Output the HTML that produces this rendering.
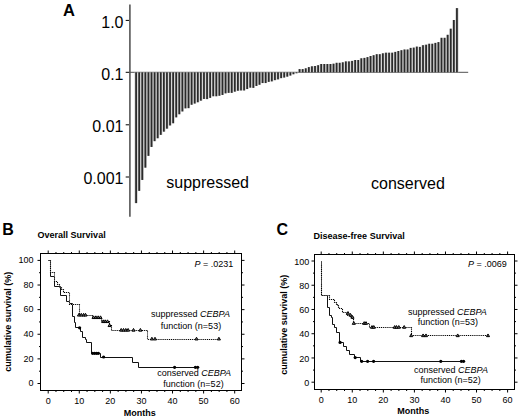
<!DOCTYPE html>
<html><head><meta charset="utf-8"><style>
html,body{margin:0;padding:0;background:#fff;width:520px;height:416px;overflow:hidden}
svg{display:block}
text{font-family:"Liberation Sans",sans-serif;fill:#000}
</style></head><body>
<svg width="520" height="416" viewBox="0 0 520 416">
<rect width="520" height="416" fill="#fff"/>
<!-- Panel A -->
<text x="63" y="15.6" font-size="16.5" font-weight="bold">A</text>
<line x1="129.9" y1="4.5" x2="129.9" y2="216.8" stroke="#606060" stroke-width="1.7"/>
<line x1="129" y1="72.3" x2="468.2" y2="72.3" stroke="#505050" stroke-width="1"/>
<g stroke="#000" stroke-width="1">
<line x1="125.7" y1="20.4" x2="129" y2="20.4"/>
<line x1="125.7" y1="72.3" x2="129" y2="72.3"/>
<line x1="125.7" y1="124.8" x2="129" y2="124.8"/>
<line x1="125.7" y1="177" x2="129" y2="177"/>
</g>
<g font-size="16" text-anchor="end">
<text x="123.5" y="27.5">1.0</text>
<text x="123.5" y="79.6">0.1</text>
<text x="123.5" y="132.1">0.01</text>
<text x="123.5" y="184.4">0.001</text>
</g>
<g fill="#cacaca">
<rect x="134.56" y="72.30" width="3.085" height="130.80"/>
<rect x="137.64" y="72.30" width="3.085" height="118.55"/>
<rect x="140.73" y="72.30" width="3.085" height="107.65"/>
<rect x="143.81" y="72.30" width="3.085" height="95.35"/>
<rect x="146.90" y="72.30" width="3.085" height="83.55"/>
<rect x="149.98" y="72.30" width="3.085" height="74.65"/>
<rect x="153.07" y="72.30" width="3.085" height="68.85"/>
<rect x="156.15" y="72.30" width="3.085" height="65.95"/>
<rect x="159.24" y="72.30" width="3.085" height="62.55"/>
<rect x="162.32" y="72.30" width="3.085" height="59.35"/>
<rect x="165.41" y="72.30" width="3.085" height="56.35"/>
<rect x="168.49" y="72.30" width="3.085" height="53.15"/>
<rect x="171.58" y="72.30" width="3.085" height="50.95"/>
<rect x="174.66" y="72.30" width="3.085" height="45.05"/>
<rect x="177.75" y="72.30" width="3.085" height="41.95"/>
<rect x="180.83" y="72.30" width="3.085" height="39.15"/>
<rect x="183.92" y="72.30" width="3.085" height="36.05"/>
<rect x="187.00" y="72.30" width="3.085" height="35.85"/>
<rect x="190.09" y="72.30" width="3.085" height="32.45"/>
<rect x="193.17" y="72.30" width="3.085" height="31.25"/>
<rect x="196.26" y="72.30" width="3.085" height="29.95"/>
<rect x="199.34" y="72.30" width="3.085" height="28.35"/>
<rect x="202.43" y="72.30" width="3.085" height="26.65"/>
<rect x="205.51" y="72.30" width="3.085" height="26.80"/>
<rect x="208.60" y="72.30" width="3.085" height="25.55"/>
<rect x="211.68" y="72.30" width="3.085" height="23.95"/>
<rect x="214.77" y="72.30" width="3.085" height="23.95"/>
<rect x="217.85" y="72.30" width="3.085" height="23.45"/>
<rect x="220.94" y="72.30" width="3.085" height="22.65"/>
<rect x="224.02" y="72.30" width="3.085" height="21.05"/>
<rect x="227.11" y="72.30" width="3.085" height="20.55"/>
<rect x="230.19" y="72.30" width="3.085" height="20.55"/>
<rect x="233.28" y="72.30" width="3.085" height="19.35"/>
<rect x="236.36" y="72.30" width="3.085" height="18.45"/>
<rect x="239.45" y="72.30" width="3.085" height="18.15"/>
<rect x="242.53" y="72.30" width="3.085" height="18.15"/>
<rect x="245.62" y="72.30" width="3.085" height="16.75"/>
<rect x="248.70" y="72.30" width="3.085" height="15.35"/>
<rect x="251.79" y="72.30" width="3.085" height="15.55"/>
<rect x="254.87" y="72.30" width="3.085" height="13.65"/>
<rect x="257.96" y="72.30" width="3.085" height="12.45"/>
<rect x="261.04" y="72.30" width="3.085" height="10.75"/>
<rect x="264.13" y="72.30" width="3.085" height="10.75"/>
<rect x="267.21" y="72.30" width="3.085" height="9.55"/>
<rect x="270.30" y="72.30" width="3.085" height="9.05"/>
<rect x="273.38" y="72.30" width="3.085" height="7.85"/>
<rect x="276.47" y="72.30" width="3.085" height="7.05"/>
<rect x="279.55" y="72.30" width="3.085" height="5.85"/>
<rect x="282.64" y="72.30" width="3.085" height="5.25"/>
<rect x="285.72" y="72.30" width="3.085" height="4.35"/>
<rect x="288.81" y="72.30" width="3.085" height="3.25"/>
<rect x="291.89" y="72.30" width="3.085" height="1.95"/>
<rect x="294.98" y="72.30" width="3.085" height="0.95"/>
<rect x="298.06" y="69.10" width="3.085" height="3.20"/>
<rect x="301.15" y="69.10" width="3.085" height="3.20"/>
<rect x="304.23" y="68.30" width="3.085" height="4.00"/>
<rect x="307.32" y="67.10" width="3.085" height="5.20"/>
<rect x="310.40" y="66.30" width="3.085" height="6.00"/>
<rect x="313.49" y="66.00" width="3.085" height="6.30"/>
<rect x="316.57" y="65.20" width="3.085" height="7.10"/>
<rect x="319.66" y="64.00" width="3.085" height="8.30"/>
<rect x="322.74" y="64.00" width="3.085" height="8.30"/>
<rect x="325.83" y="64.00" width="3.085" height="8.30"/>
<rect x="328.91" y="64.00" width="3.085" height="8.30"/>
<rect x="332.00" y="63.70" width="3.085" height="8.60"/>
<rect x="335.08" y="62.80" width="3.085" height="9.50"/>
<rect x="338.17" y="62.80" width="3.085" height="9.50"/>
<rect x="341.25" y="62.30" width="3.085" height="10.00"/>
<rect x="344.34" y="61.40" width="3.085" height="10.90"/>
<rect x="347.42" y="61.40" width="3.085" height="10.90"/>
<rect x="350.51" y="60.90" width="3.085" height="11.40"/>
<rect x="353.59" y="60.00" width="3.085" height="12.30"/>
<rect x="356.68" y="60.00" width="3.085" height="12.30"/>
<rect x="359.76" y="58.30" width="3.085" height="14.00"/>
<rect x="362.85" y="57.90" width="3.085" height="14.40"/>
<rect x="365.93" y="57.10" width="3.085" height="15.20"/>
<rect x="369.02" y="56.00" width="3.085" height="16.30"/>
<rect x="372.10" y="55.20" width="3.085" height="17.10"/>
<rect x="375.19" y="54.20" width="3.085" height="18.10"/>
<rect x="378.27" y="54.20" width="3.085" height="18.10"/>
<rect x="381.36" y="53.30" width="3.085" height="19.00"/>
<rect x="384.44" y="52.70" width="3.085" height="19.60"/>
<rect x="387.53" y="52.70" width="3.085" height="19.60"/>
<rect x="390.61" y="52.70" width="3.085" height="19.60"/>
<rect x="393.70" y="51.90" width="3.085" height="20.40"/>
<rect x="396.78" y="51.00" width="3.085" height="21.30"/>
<rect x="399.87" y="50.20" width="3.085" height="22.10"/>
<rect x="402.95" y="49.50" width="3.085" height="22.80"/>
<rect x="406.04" y="49.50" width="3.085" height="22.80"/>
<rect x="409.12" y="47.90" width="3.085" height="24.40"/>
<rect x="412.21" y="47.60" width="3.085" height="24.70"/>
<rect x="415.29" y="46.60" width="3.085" height="25.70"/>
<rect x="418.38" y="46.90" width="3.085" height="25.40"/>
<rect x="421.46" y="45.20" width="3.085" height="27.10"/>
<rect x="424.55" y="44.70" width="3.085" height="27.60"/>
<rect x="427.63" y="43.75" width="3.085" height="28.55"/>
<rect x="430.72" y="43.75" width="3.085" height="28.55"/>
<rect x="433.80" y="42.90" width="3.085" height="29.40"/>
<rect x="436.89" y="42.10" width="3.085" height="30.20"/>
<rect x="439.97" y="37.80" width="3.085" height="34.50"/>
<rect x="443.06" y="37.80" width="3.085" height="34.50"/>
<rect x="446.14" y="34.80" width="3.085" height="37.50"/>
<rect x="449.23" y="28.70" width="3.085" height="43.60"/>
<rect x="452.31" y="20.00" width="3.085" height="52.30"/>
<rect x="455.40" y="8.10" width="3.085" height="64.20"/>
</g>
<g fill="#2a2a2a">
<rect x="135.22" y="72.30" width="1.75" height="130.80"/>
<rect x="138.31" y="72.30" width="1.75" height="118.55"/>
<rect x="141.39" y="72.30" width="1.75" height="107.65"/>
<rect x="144.48" y="72.30" width="1.75" height="95.35"/>
<rect x="147.56" y="72.30" width="1.75" height="83.55"/>
<rect x="150.65" y="72.30" width="1.75" height="74.65"/>
<rect x="153.73" y="72.30" width="1.75" height="68.85"/>
<rect x="156.82" y="72.30" width="1.75" height="65.95"/>
<rect x="159.91" y="72.30" width="1.75" height="62.55"/>
<rect x="162.99" y="72.30" width="1.75" height="59.35"/>
<rect x="166.07" y="72.30" width="1.75" height="56.35"/>
<rect x="169.16" y="72.30" width="1.75" height="53.15"/>
<rect x="172.25" y="72.30" width="1.75" height="50.95"/>
<rect x="175.33" y="72.30" width="1.75" height="45.05"/>
<rect x="178.41" y="72.30" width="1.75" height="41.95"/>
<rect x="181.50" y="72.30" width="1.75" height="39.15"/>
<rect x="184.58" y="72.30" width="1.75" height="36.05"/>
<rect x="187.67" y="72.30" width="1.75" height="35.85"/>
<rect x="190.75" y="72.30" width="1.75" height="32.45"/>
<rect x="193.84" y="72.30" width="1.75" height="31.25"/>
<rect x="196.93" y="72.30" width="1.75" height="29.95"/>
<rect x="200.01" y="72.30" width="1.75" height="28.35"/>
<rect x="203.09" y="72.30" width="1.75" height="26.65"/>
<rect x="206.18" y="72.30" width="1.75" height="26.80"/>
<rect x="209.26" y="72.30" width="1.75" height="25.55"/>
<rect x="212.35" y="72.30" width="1.75" height="23.95"/>
<rect x="215.44" y="72.30" width="1.75" height="23.95"/>
<rect x="218.52" y="72.30" width="1.75" height="23.45"/>
<rect x="221.60" y="72.30" width="1.75" height="22.65"/>
<rect x="224.69" y="72.30" width="1.75" height="21.05"/>
<rect x="227.77" y="72.30" width="1.75" height="20.55"/>
<rect x="230.86" y="72.30" width="1.75" height="20.55"/>
<rect x="233.94" y="72.30" width="1.75" height="19.35"/>
<rect x="237.03" y="72.30" width="1.75" height="18.45"/>
<rect x="240.12" y="72.30" width="1.75" height="18.15"/>
<rect x="243.20" y="72.30" width="1.75" height="18.15"/>
<rect x="246.28" y="72.30" width="1.75" height="16.75"/>
<rect x="249.37" y="72.30" width="1.75" height="15.35"/>
<rect x="252.45" y="72.30" width="1.75" height="15.55"/>
<rect x="255.54" y="72.30" width="1.75" height="13.65"/>
<rect x="258.62" y="72.30" width="1.75" height="12.45"/>
<rect x="261.71" y="72.30" width="1.75" height="10.75"/>
<rect x="264.79" y="72.30" width="1.75" height="10.75"/>
<rect x="267.88" y="72.30" width="1.75" height="9.55"/>
<rect x="270.97" y="72.30" width="1.75" height="9.05"/>
<rect x="274.05" y="72.30" width="1.75" height="7.85"/>
<rect x="277.13" y="72.30" width="1.75" height="7.05"/>
<rect x="280.22" y="72.30" width="1.75" height="5.85"/>
<rect x="283.30" y="72.30" width="1.75" height="5.25"/>
<rect x="286.39" y="72.30" width="1.75" height="4.35"/>
<rect x="289.48" y="72.30" width="1.75" height="3.25"/>
<rect x="292.56" y="72.30" width="1.75" height="1.95"/>
<rect x="295.64" y="72.30" width="1.75" height="0.95"/>
<rect x="298.73" y="69.10" width="1.75" height="3.20"/>
<rect x="301.81" y="69.10" width="1.75" height="3.20"/>
<rect x="304.90" y="68.30" width="1.75" height="4.00"/>
<rect x="307.99" y="67.10" width="1.75" height="5.20"/>
<rect x="311.07" y="66.30" width="1.75" height="6.00"/>
<rect x="314.15" y="66.00" width="1.75" height="6.30"/>
<rect x="317.24" y="65.20" width="1.75" height="7.10"/>
<rect x="320.32" y="64.00" width="1.75" height="8.30"/>
<rect x="323.41" y="64.00" width="1.75" height="8.30"/>
<rect x="326.50" y="64.00" width="1.75" height="8.30"/>
<rect x="329.58" y="64.00" width="1.75" height="8.30"/>
<rect x="332.66" y="63.70" width="1.75" height="8.60"/>
<rect x="335.75" y="62.80" width="1.75" height="9.50"/>
<rect x="338.83" y="62.80" width="1.75" height="9.50"/>
<rect x="341.92" y="62.30" width="1.75" height="10.00"/>
<rect x="345.00" y="61.40" width="1.75" height="10.90"/>
<rect x="348.09" y="61.40" width="1.75" height="10.90"/>
<rect x="351.17" y="60.90" width="1.75" height="11.40"/>
<rect x="354.26" y="60.00" width="1.75" height="12.30"/>
<rect x="357.35" y="60.00" width="1.75" height="12.30"/>
<rect x="360.43" y="58.30" width="1.75" height="14.00"/>
<rect x="363.51" y="57.90" width="1.75" height="14.40"/>
<rect x="366.60" y="57.10" width="1.75" height="15.20"/>
<rect x="369.69" y="56.00" width="1.75" height="16.30"/>
<rect x="372.77" y="55.20" width="1.75" height="17.10"/>
<rect x="375.86" y="54.20" width="1.75" height="18.10"/>
<rect x="378.94" y="54.20" width="1.75" height="18.10"/>
<rect x="382.02" y="53.30" width="1.75" height="19.00"/>
<rect x="385.11" y="52.70" width="1.75" height="19.60"/>
<rect x="388.19" y="52.70" width="1.75" height="19.60"/>
<rect x="391.28" y="52.70" width="1.75" height="19.60"/>
<rect x="394.37" y="51.90" width="1.75" height="20.40"/>
<rect x="397.45" y="51.00" width="1.75" height="21.30"/>
<rect x="400.53" y="50.20" width="1.75" height="22.10"/>
<rect x="403.62" y="49.50" width="1.75" height="22.80"/>
<rect x="406.71" y="49.50" width="1.75" height="22.80"/>
<rect x="409.79" y="47.90" width="1.75" height="24.40"/>
<rect x="412.88" y="47.60" width="1.75" height="24.70"/>
<rect x="415.96" y="46.60" width="1.75" height="25.70"/>
<rect x="419.04" y="46.90" width="1.75" height="25.40"/>
<rect x="422.13" y="45.20" width="1.75" height="27.10"/>
<rect x="425.22" y="44.70" width="1.75" height="27.60"/>
<rect x="428.30" y="43.75" width="1.75" height="28.55"/>
<rect x="431.38" y="43.75" width="1.75" height="28.55"/>
<rect x="434.47" y="42.90" width="1.75" height="29.40"/>
<rect x="437.55" y="42.10" width="1.75" height="30.20"/>
<rect x="440.64" y="37.80" width="1.75" height="34.50"/>
<rect x="443.73" y="37.80" width="1.75" height="34.50"/>
<rect x="446.81" y="34.80" width="1.75" height="37.50"/>
<rect x="449.89" y="28.70" width="1.75" height="43.60"/>
<rect x="452.98" y="20.00" width="1.75" height="52.30"/>
<rect x="456.06" y="8.10" width="1.75" height="64.20"/>
</g>
<text x="166.3" y="188.4" font-size="16">suppressed</text>
<text x="371" y="188.6" font-size="16">conserved</text>

<!-- Panel B -->
<text x="2.2" y="235.3" font-size="16" font-weight="bold">B</text>
<text x="37.6" y="238.2" font-size="9" font-weight="bold">Overall Survival</text>
<rect x="40.5" y="253.5" width="201.0" height="137.0" fill="none" stroke="#000" stroke-width="1"/>
<line x1="48.20" y1="390.5" x2="48.20" y2="393.5" stroke="#000" stroke-width="1"/>
<line x1="48.20" y1="253.5" x2="48.20" y2="250.5" stroke="#000" stroke-width="1"/>
<line x1="55.97" y1="390.5" x2="55.97" y2="392.0" stroke="#000" stroke-width="1"/>
<line x1="55.97" y1="253.5" x2="55.97" y2="252.0" stroke="#000" stroke-width="1"/>
<line x1="63.74" y1="390.5" x2="63.74" y2="392.0" stroke="#000" stroke-width="1"/>
<line x1="63.74" y1="253.5" x2="63.74" y2="252.0" stroke="#000" stroke-width="1"/>
<line x1="71.51" y1="390.5" x2="71.51" y2="392.0" stroke="#000" stroke-width="1"/>
<line x1="71.51" y1="253.5" x2="71.51" y2="252.0" stroke="#000" stroke-width="1"/>
<line x1="79.28" y1="390.5" x2="79.28" y2="393.5" stroke="#000" stroke-width="1"/>
<line x1="79.28" y1="253.5" x2="79.28" y2="250.5" stroke="#000" stroke-width="1"/>
<line x1="87.05" y1="390.5" x2="87.05" y2="392.0" stroke="#000" stroke-width="1"/>
<line x1="87.05" y1="253.5" x2="87.05" y2="252.0" stroke="#000" stroke-width="1"/>
<line x1="94.83" y1="390.5" x2="94.83" y2="392.0" stroke="#000" stroke-width="1"/>
<line x1="94.83" y1="253.5" x2="94.83" y2="252.0" stroke="#000" stroke-width="1"/>
<line x1="102.60" y1="390.5" x2="102.60" y2="392.0" stroke="#000" stroke-width="1"/>
<line x1="102.60" y1="253.5" x2="102.60" y2="252.0" stroke="#000" stroke-width="1"/>
<line x1="110.37" y1="390.5" x2="110.37" y2="393.5" stroke="#000" stroke-width="1"/>
<line x1="110.37" y1="253.5" x2="110.37" y2="250.5" stroke="#000" stroke-width="1"/>
<line x1="118.14" y1="390.5" x2="118.14" y2="392.0" stroke="#000" stroke-width="1"/>
<line x1="118.14" y1="253.5" x2="118.14" y2="252.0" stroke="#000" stroke-width="1"/>
<line x1="125.91" y1="390.5" x2="125.91" y2="392.0" stroke="#000" stroke-width="1"/>
<line x1="125.91" y1="253.5" x2="125.91" y2="252.0" stroke="#000" stroke-width="1"/>
<line x1="133.68" y1="390.5" x2="133.68" y2="392.0" stroke="#000" stroke-width="1"/>
<line x1="133.68" y1="253.5" x2="133.68" y2="252.0" stroke="#000" stroke-width="1"/>
<line x1="141.45" y1="390.5" x2="141.45" y2="393.5" stroke="#000" stroke-width="1"/>
<line x1="141.45" y1="253.5" x2="141.45" y2="250.5" stroke="#000" stroke-width="1"/>
<line x1="149.22" y1="390.5" x2="149.22" y2="392.0" stroke="#000" stroke-width="1"/>
<line x1="149.22" y1="253.5" x2="149.22" y2="252.0" stroke="#000" stroke-width="1"/>
<line x1="156.99" y1="390.5" x2="156.99" y2="392.0" stroke="#000" stroke-width="1"/>
<line x1="156.99" y1="253.5" x2="156.99" y2="252.0" stroke="#000" stroke-width="1"/>
<line x1="164.76" y1="390.5" x2="164.76" y2="392.0" stroke="#000" stroke-width="1"/>
<line x1="164.76" y1="253.5" x2="164.76" y2="252.0" stroke="#000" stroke-width="1"/>
<line x1="172.53" y1="390.5" x2="172.53" y2="393.5" stroke="#000" stroke-width="1"/>
<line x1="172.53" y1="253.5" x2="172.53" y2="250.5" stroke="#000" stroke-width="1"/>
<line x1="180.30" y1="390.5" x2="180.30" y2="392.0" stroke="#000" stroke-width="1"/>
<line x1="180.30" y1="253.5" x2="180.30" y2="252.0" stroke="#000" stroke-width="1"/>
<line x1="188.07" y1="390.5" x2="188.07" y2="392.0" stroke="#000" stroke-width="1"/>
<line x1="188.07" y1="253.5" x2="188.07" y2="252.0" stroke="#000" stroke-width="1"/>
<line x1="195.85" y1="390.5" x2="195.85" y2="392.0" stroke="#000" stroke-width="1"/>
<line x1="195.85" y1="253.5" x2="195.85" y2="252.0" stroke="#000" stroke-width="1"/>
<line x1="203.62" y1="390.5" x2="203.62" y2="393.5" stroke="#000" stroke-width="1"/>
<line x1="203.62" y1="253.5" x2="203.62" y2="250.5" stroke="#000" stroke-width="1"/>
<line x1="211.39" y1="390.5" x2="211.39" y2="392.0" stroke="#000" stroke-width="1"/>
<line x1="211.39" y1="253.5" x2="211.39" y2="252.0" stroke="#000" stroke-width="1"/>
<line x1="219.16" y1="390.5" x2="219.16" y2="392.0" stroke="#000" stroke-width="1"/>
<line x1="219.16" y1="253.5" x2="219.16" y2="252.0" stroke="#000" stroke-width="1"/>
<line x1="226.93" y1="390.5" x2="226.93" y2="392.0" stroke="#000" stroke-width="1"/>
<line x1="226.93" y1="253.5" x2="226.93" y2="252.0" stroke="#000" stroke-width="1"/>
<line x1="234.70" y1="390.5" x2="234.70" y2="393.5" stroke="#000" stroke-width="1"/>
<line x1="234.70" y1="253.5" x2="234.70" y2="250.5" stroke="#000" stroke-width="1"/>
<line x1="40.5" y1="383.50" x2="37.5" y2="383.50" stroke="#000" stroke-width="1"/>
<line x1="241.5" y1="383.50" x2="244.5" y2="383.50" stroke="#000" stroke-width="1"/>
<line x1="40.5" y1="371.19" x2="39.0" y2="371.19" stroke="#000" stroke-width="1"/>
<line x1="241.5" y1="371.19" x2="243.0" y2="371.19" stroke="#000" stroke-width="1"/>
<line x1="40.5" y1="358.88" x2="37.5" y2="358.88" stroke="#000" stroke-width="1"/>
<line x1="241.5" y1="358.88" x2="244.5" y2="358.88" stroke="#000" stroke-width="1"/>
<line x1="40.5" y1="346.57" x2="39.0" y2="346.57" stroke="#000" stroke-width="1"/>
<line x1="241.5" y1="346.57" x2="243.0" y2="346.57" stroke="#000" stroke-width="1"/>
<line x1="40.5" y1="334.26" x2="37.5" y2="334.26" stroke="#000" stroke-width="1"/>
<line x1="241.5" y1="334.26" x2="244.5" y2="334.26" stroke="#000" stroke-width="1"/>
<line x1="40.5" y1="321.95" x2="39.0" y2="321.95" stroke="#000" stroke-width="1"/>
<line x1="241.5" y1="321.95" x2="243.0" y2="321.95" stroke="#000" stroke-width="1"/>
<line x1="40.5" y1="309.64" x2="37.5" y2="309.64" stroke="#000" stroke-width="1"/>
<line x1="241.5" y1="309.64" x2="244.5" y2="309.64" stroke="#000" stroke-width="1"/>
<line x1="40.5" y1="297.33" x2="39.0" y2="297.33" stroke="#000" stroke-width="1"/>
<line x1="241.5" y1="297.33" x2="243.0" y2="297.33" stroke="#000" stroke-width="1"/>
<line x1="40.5" y1="285.02" x2="37.5" y2="285.02" stroke="#000" stroke-width="1"/>
<line x1="241.5" y1="285.02" x2="244.5" y2="285.02" stroke="#000" stroke-width="1"/>
<line x1="40.5" y1="272.71" x2="39.0" y2="272.71" stroke="#000" stroke-width="1"/>
<line x1="241.5" y1="272.71" x2="243.0" y2="272.71" stroke="#000" stroke-width="1"/>
<line x1="40.5" y1="260.40" x2="37.5" y2="260.40" stroke="#000" stroke-width="1"/>
<line x1="241.5" y1="260.40" x2="244.5" y2="260.40" stroke="#000" stroke-width="1"/>
<text x="33.60" y="386.30" text-anchor="end" font-size="9">0</text>
<text x="33.60" y="361.68" text-anchor="end" font-size="9">20</text>
<text x="33.60" y="337.06" text-anchor="end" font-size="9">40</text>
<text x="33.60" y="312.44" text-anchor="end" font-size="9">60</text>
<text x="33.60" y="287.82" text-anchor="end" font-size="9">80</text>
<text x="33.60" y="263.20" text-anchor="end" font-size="9">100</text>
<text x="48.20" y="403.80" text-anchor="middle" font-size="9">0</text>
<text x="79.28" y="403.80" text-anchor="middle" font-size="9">10</text>
<text x="110.37" y="403.80" text-anchor="middle" font-size="9">20</text>
<text x="141.45" y="403.80" text-anchor="middle" font-size="9">30</text>
<text x="172.53" y="403.80" text-anchor="middle" font-size="9">40</text>
<text x="203.62" y="403.80" text-anchor="middle" font-size="9">50</text>
<text x="234.70" y="403.80" text-anchor="middle" font-size="9">60</text>
<text transform="translate(11.1,321.8) rotate(-90)" text-anchor="middle" font-size="9" font-weight="bold">cumulative survival (%)</text>
<text x="139.7" y="415.5" text-anchor="middle" font-size="9" font-weight="bold">Months</text>
<text x="233.3" y="267.2" text-anchor="end" font-size="9"><tspan font-style="italic">P</tspan> = .0231</text>
<path d="M48.5,260.5 H50.5 V276.5 H54.5 V286.5 H60.5 V295.5 H66.5 V301.5 H69.5 V303.5 H72.5 V316.5 H74.5 V322.5 H75.5 V327.5 H80.5 V331.5 H82.5 V337.5 H85.5 V339.5 H86.5 V342.5 H91.5 V353.5 H100.5 V357.5 H132.5 V362.5 H138.5 V367.5 H198.5" fill="none" stroke="#111" stroke-width="1"/>
<path d="M48.5,260.5 H50.5 V272.5 H54.5 V281.5 H57.5 V284.5 H59.5 V287.5 H61.5 V289.5 H63.5 V292.5 H69.5 V304.5 H79.5 V315.5 H92.5 V317.5 H101.5 V321.5 H109.5 V325.5 H111.5 V330.5 H147.5 V339.5 H219.5" fill="none" stroke="#fff" stroke-opacity="0.55" stroke-width="1.1"/>
<path d="M48.5,260.5 H50.5 V272.5 H54.5 V281.5 H57.5 V284.5 H59.5 V287.5 H61.5 V289.5 H63.5 V292.5 H69.5 V304.5 H79.5 V315.5 H92.5 V317.5 H101.5 V321.5 H109.5 V325.5 H111.5 V330.5 H147.5 V339.5 H219.5" fill="none" stroke="#000" stroke-width="1.1" stroke-dasharray="1.1 0.8"/>
<circle cx="79.60" cy="327.80" r="1.6"/>
<circle cx="92.60" cy="353.30" r="1.6"/>
<circle cx="94.60" cy="353.30" r="1.6"/>
<circle cx="96.60" cy="353.30" r="1.6"/>
<circle cx="98.40" cy="353.30" r="1.6"/>
<circle cx="103.60" cy="357.00" r="1.6"/>
<circle cx="174.60" cy="367.30" r="1.6"/>
<circle cx="195.40" cy="367.30" r="1.6"/>
<circle cx="197.70" cy="367.30" r="1.6"/>
<path d="M77.45,316.05 L79.00,313.35 L80.55,316.05 Z" fill="#888" stroke="#000" stroke-width="1"/>
<path d="M79.75,316.05 L81.30,313.35 L82.85,316.05 Z" fill="#888" stroke="#000" stroke-width="1"/>
<path d="M82.05,316.05 L83.60,313.35 L85.15,316.05 Z" fill="#888" stroke="#000" stroke-width="1"/>
<path d="M83.95,316.05 L85.50,313.35 L87.05,316.05 Z" fill="#888" stroke="#000" stroke-width="1"/>
<path d="M92.05,318.55 L93.60,315.85 L95.15,318.55 Z" fill="#888" stroke="#000" stroke-width="1"/>
<path d="M94.35,318.55 L95.90,315.85 L97.45,318.55 Z" fill="#888" stroke="#000" stroke-width="1"/>
<path d="M96.65,318.55 L98.20,315.85 L99.75,318.55 Z" fill="#888" stroke="#000" stroke-width="1"/>
<path d="M98.95,318.55 L100.50,315.85 L102.05,318.55 Z" fill="#888" stroke="#000" stroke-width="1"/>
<path d="M101.65,322.55 L103.20,319.85 L104.75,322.55 Z" fill="#888" stroke="#000" stroke-width="1"/>
<path d="M103.65,322.55 L105.20,319.85 L106.75,322.55 Z" fill="#888" stroke="#000" stroke-width="1"/>
<path d="M105.95,322.55 L107.50,319.85 L109.05,322.55 Z" fill="#888" stroke="#000" stroke-width="1"/>
<path d="M108.05,326.55 L109.60,323.85 L111.15,326.55 Z" fill="#888" stroke="#000" stroke-width="1"/>
<path d="M119.65,331.15 L121.20,328.45 L122.75,331.15 Z" fill="#888" stroke="#000" stroke-width="1"/>
<path d="M121.95,331.15 L123.50,328.45 L125.05,331.15 Z" fill="#888" stroke="#000" stroke-width="1"/>
<path d="M124.25,331.15 L125.80,328.45 L127.35,331.15 Z" fill="#888" stroke="#000" stroke-width="1"/>
<path d="M126.55,331.15 L128.10,328.45 L129.65,331.15 Z" fill="#888" stroke="#000" stroke-width="1"/>
<path d="M131.95,331.15 L133.50,328.45 L135.05,331.15 Z" fill="#888" stroke="#000" stroke-width="1"/>
<path d="M138.85,331.15 L140.40,328.45 L141.95,331.15 Z" fill="#888" stroke="#000" stroke-width="1"/>
<path d="M150.35,339.95 L151.90,337.25 L153.45,339.95 Z" fill="#888" stroke="#000" stroke-width="1"/>
<path d="M153.45,339.95 L155.00,337.25 L156.55,339.95 Z" fill="#888" stroke="#000" stroke-width="1"/>
<path d="M194.95,339.95 L196.50,337.25 L198.05,339.95 Z" fill="#888" stroke="#000" stroke-width="1"/>
<path d="M217.35,339.95 L218.90,337.25 L220.45,339.95 Z" fill="#888" stroke="#000" stroke-width="1"/>
<g font-size="9" text-anchor="middle">
<text x="190.5" y="317.2">suppressed <tspan font-style="italic">CEBPA</tspan></text>
<text x="191" y="328.5">function (n=53)</text>
<text x="194.2" y="376.3">conserved <tspan font-style="italic">CEBPA</tspan></text>
<text x="193.5" y="386.9">function (n=52)</text>
</g>

<!-- Panel C -->
<text x="276.5" y="235.4" font-size="16" font-weight="bold">C</text>
<text x="313.6" y="238.8" font-size="9" font-weight="bold">Disease-free Survival</text>
<rect x="314.5" y="254.5" width="200.0" height="135.0" fill="none" stroke="#000" stroke-width="1"/>
<line x1="321.20" y1="389.5" x2="321.20" y2="392.5" stroke="#000" stroke-width="1"/>
<line x1="321.20" y1="254.5" x2="321.20" y2="251.5" stroke="#000" stroke-width="1"/>
<line x1="328.97" y1="389.5" x2="328.97" y2="391.0" stroke="#000" stroke-width="1"/>
<line x1="328.97" y1="254.5" x2="328.97" y2="253.0" stroke="#000" stroke-width="1"/>
<line x1="336.73" y1="389.5" x2="336.73" y2="391.0" stroke="#000" stroke-width="1"/>
<line x1="336.73" y1="254.5" x2="336.73" y2="253.0" stroke="#000" stroke-width="1"/>
<line x1="344.50" y1="389.5" x2="344.50" y2="391.0" stroke="#000" stroke-width="1"/>
<line x1="344.50" y1="254.5" x2="344.50" y2="253.0" stroke="#000" stroke-width="1"/>
<line x1="352.27" y1="389.5" x2="352.27" y2="392.5" stroke="#000" stroke-width="1"/>
<line x1="352.27" y1="254.5" x2="352.27" y2="251.5" stroke="#000" stroke-width="1"/>
<line x1="360.03" y1="389.5" x2="360.03" y2="391.0" stroke="#000" stroke-width="1"/>
<line x1="360.03" y1="254.5" x2="360.03" y2="253.0" stroke="#000" stroke-width="1"/>
<line x1="367.80" y1="389.5" x2="367.80" y2="391.0" stroke="#000" stroke-width="1"/>
<line x1="367.80" y1="254.5" x2="367.80" y2="253.0" stroke="#000" stroke-width="1"/>
<line x1="375.57" y1="389.5" x2="375.57" y2="391.0" stroke="#000" stroke-width="1"/>
<line x1="375.57" y1="254.5" x2="375.57" y2="253.0" stroke="#000" stroke-width="1"/>
<line x1="383.33" y1="389.5" x2="383.33" y2="392.5" stroke="#000" stroke-width="1"/>
<line x1="383.33" y1="254.5" x2="383.33" y2="251.5" stroke="#000" stroke-width="1"/>
<line x1="391.10" y1="389.5" x2="391.10" y2="391.0" stroke="#000" stroke-width="1"/>
<line x1="391.10" y1="254.5" x2="391.10" y2="253.0" stroke="#000" stroke-width="1"/>
<line x1="398.87" y1="389.5" x2="398.87" y2="391.0" stroke="#000" stroke-width="1"/>
<line x1="398.87" y1="254.5" x2="398.87" y2="253.0" stroke="#000" stroke-width="1"/>
<line x1="406.63" y1="389.5" x2="406.63" y2="391.0" stroke="#000" stroke-width="1"/>
<line x1="406.63" y1="254.5" x2="406.63" y2="253.0" stroke="#000" stroke-width="1"/>
<line x1="414.40" y1="389.5" x2="414.40" y2="392.5" stroke="#000" stroke-width="1"/>
<line x1="414.40" y1="254.5" x2="414.40" y2="251.5" stroke="#000" stroke-width="1"/>
<line x1="422.17" y1="389.5" x2="422.17" y2="391.0" stroke="#000" stroke-width="1"/>
<line x1="422.17" y1="254.5" x2="422.17" y2="253.0" stroke="#000" stroke-width="1"/>
<line x1="429.93" y1="389.5" x2="429.93" y2="391.0" stroke="#000" stroke-width="1"/>
<line x1="429.93" y1="254.5" x2="429.93" y2="253.0" stroke="#000" stroke-width="1"/>
<line x1="437.70" y1="389.5" x2="437.70" y2="391.0" stroke="#000" stroke-width="1"/>
<line x1="437.70" y1="254.5" x2="437.70" y2="253.0" stroke="#000" stroke-width="1"/>
<line x1="445.47" y1="389.5" x2="445.47" y2="392.5" stroke="#000" stroke-width="1"/>
<line x1="445.47" y1="254.5" x2="445.47" y2="251.5" stroke="#000" stroke-width="1"/>
<line x1="453.23" y1="389.5" x2="453.23" y2="391.0" stroke="#000" stroke-width="1"/>
<line x1="453.23" y1="254.5" x2="453.23" y2="253.0" stroke="#000" stroke-width="1"/>
<line x1="461.00" y1="389.5" x2="461.00" y2="391.0" stroke="#000" stroke-width="1"/>
<line x1="461.00" y1="254.5" x2="461.00" y2="253.0" stroke="#000" stroke-width="1"/>
<line x1="468.77" y1="389.5" x2="468.77" y2="391.0" stroke="#000" stroke-width="1"/>
<line x1="468.77" y1="254.5" x2="468.77" y2="253.0" stroke="#000" stroke-width="1"/>
<line x1="476.53" y1="389.5" x2="476.53" y2="392.5" stroke="#000" stroke-width="1"/>
<line x1="476.53" y1="254.5" x2="476.53" y2="251.5" stroke="#000" stroke-width="1"/>
<line x1="484.30" y1="389.5" x2="484.30" y2="391.0" stroke="#000" stroke-width="1"/>
<line x1="484.30" y1="254.5" x2="484.30" y2="253.0" stroke="#000" stroke-width="1"/>
<line x1="492.07" y1="389.5" x2="492.07" y2="391.0" stroke="#000" stroke-width="1"/>
<line x1="492.07" y1="254.5" x2="492.07" y2="253.0" stroke="#000" stroke-width="1"/>
<line x1="499.83" y1="389.5" x2="499.83" y2="391.0" stroke="#000" stroke-width="1"/>
<line x1="499.83" y1="254.5" x2="499.83" y2="253.0" stroke="#000" stroke-width="1"/>
<line x1="507.60" y1="389.5" x2="507.60" y2="392.5" stroke="#000" stroke-width="1"/>
<line x1="507.60" y1="254.5" x2="507.60" y2="251.5" stroke="#000" stroke-width="1"/>
<line x1="314.5" y1="382.20" x2="311.5" y2="382.20" stroke="#000" stroke-width="1"/>
<line x1="514.5" y1="382.20" x2="517.5" y2="382.20" stroke="#000" stroke-width="1"/>
<line x1="314.5" y1="370.08" x2="313.0" y2="370.08" stroke="#000" stroke-width="1"/>
<line x1="514.5" y1="370.08" x2="516.0" y2="370.08" stroke="#000" stroke-width="1"/>
<line x1="314.5" y1="357.96" x2="311.5" y2="357.96" stroke="#000" stroke-width="1"/>
<line x1="514.5" y1="357.96" x2="517.5" y2="357.96" stroke="#000" stroke-width="1"/>
<line x1="314.5" y1="345.84" x2="313.0" y2="345.84" stroke="#000" stroke-width="1"/>
<line x1="514.5" y1="345.84" x2="516.0" y2="345.84" stroke="#000" stroke-width="1"/>
<line x1="314.5" y1="333.72" x2="311.5" y2="333.72" stroke="#000" stroke-width="1"/>
<line x1="514.5" y1="333.72" x2="517.5" y2="333.72" stroke="#000" stroke-width="1"/>
<line x1="314.5" y1="321.60" x2="313.0" y2="321.60" stroke="#000" stroke-width="1"/>
<line x1="514.5" y1="321.60" x2="516.0" y2="321.60" stroke="#000" stroke-width="1"/>
<line x1="314.5" y1="309.48" x2="311.5" y2="309.48" stroke="#000" stroke-width="1"/>
<line x1="514.5" y1="309.48" x2="517.5" y2="309.48" stroke="#000" stroke-width="1"/>
<line x1="314.5" y1="297.36" x2="313.0" y2="297.36" stroke="#000" stroke-width="1"/>
<line x1="514.5" y1="297.36" x2="516.0" y2="297.36" stroke="#000" stroke-width="1"/>
<line x1="314.5" y1="285.24" x2="311.5" y2="285.24" stroke="#000" stroke-width="1"/>
<line x1="514.5" y1="285.24" x2="517.5" y2="285.24" stroke="#000" stroke-width="1"/>
<line x1="314.5" y1="273.12" x2="313.0" y2="273.12" stroke="#000" stroke-width="1"/>
<line x1="514.5" y1="273.12" x2="516.0" y2="273.12" stroke="#000" stroke-width="1"/>
<line x1="314.5" y1="261.00" x2="311.5" y2="261.00" stroke="#000" stroke-width="1"/>
<line x1="514.5" y1="261.00" x2="517.5" y2="261.00" stroke="#000" stroke-width="1"/>
<text x="309.30" y="385.80" text-anchor="end" font-size="9">0</text>
<text x="309.30" y="361.56" text-anchor="end" font-size="9">20</text>
<text x="309.30" y="337.32" text-anchor="end" font-size="9">40</text>
<text x="309.30" y="313.08" text-anchor="end" font-size="9">60</text>
<text x="309.30" y="288.84" text-anchor="end" font-size="9">80</text>
<text x="309.30" y="264.60" text-anchor="end" font-size="9">100</text>
<text x="321.20" y="402.50" text-anchor="middle" font-size="9">0</text>
<text x="352.27" y="402.50" text-anchor="middle" font-size="9">10</text>
<text x="383.33" y="402.50" text-anchor="middle" font-size="9">20</text>
<text x="414.40" y="402.50" text-anchor="middle" font-size="9">30</text>
<text x="445.47" y="402.50" text-anchor="middle" font-size="9">40</text>
<text x="476.53" y="402.50" text-anchor="middle" font-size="9">50</text>
<text x="507.60" y="402.50" text-anchor="middle" font-size="9">60</text>
<text transform="translate(286.8,324.8) rotate(-90)" text-anchor="middle" font-size="9" font-weight="bold">cumulative survival (%)</text>
<text x="413.3" y="414.4" text-anchor="middle" font-size="9" font-weight="bold">Months</text>
<text x="506.8" y="266.8" text-anchor="end" font-size="9"><tspan font-style="italic">P</tspan> = .0069</text>
<path d="M321.5,261.5 V295.5 H327.5 V307.5 H329.5 V315.5 H331.5 V317.5 H332.5 V324.5 H334.5 V327.5 H336.5 V332.5 H339.5 V342.5 H343.5 V346.5 H346.5 V350.5 H349.5 V354.5 H354.5 V357.5 H360.5 V361.5 H464.5" fill="none" stroke="#111" stroke-width="1"/>
<path d="M321.5,261.5 V295.5 H327.5 V295.5 H329.5 V299.5 H334.5 V300.5 H334.5 V302.5 H336.5 V304.5 H337.5 V305.5 H338.5 V307.5 H339.5 V308.5 H342.5 V311.5 H342.5 V312.5 H343.5 V312.5 H346.5 V314.5 H347.5 V315.5 H350.5 V317.5 H351.5 V318.5 H353.5 V323.5 H369.5 V327.5 H411.5 V335.5 H488.5" fill="none" stroke="#fff" stroke-opacity="0.55" stroke-width="1.1"/>
<path d="M321.5,261.5 V295.5 H327.5 V295.5 H329.5 V299.5 H334.5 V300.5 H334.5 V302.5 H336.5 V304.5 H337.5 V305.5 H338.5 V307.5 H339.5 V308.5 H342.5 V311.5 H342.5 V312.5 H343.5 V312.5 H346.5 V314.5 H347.5 V315.5 H350.5 V317.5 H351.5 V318.5 H353.5 V323.5 H369.5 V327.5 H411.5 V335.5 H488.5" fill="none" stroke="#000" stroke-width="1.1" stroke-dasharray="1.1 0.8"/>
<circle cx="340.10" cy="342.40" r="1.6"/>
<circle cx="355.20" cy="357.60" r="1.6"/>
<circle cx="361.70" cy="361.30" r="1.6"/>
<circle cx="367.60" cy="361.30" r="1.6"/>
<circle cx="373.60" cy="361.30" r="1.6"/>
<circle cx="440.80" cy="361.30" r="1.6"/>
<circle cx="461.40" cy="361.30" r="1.6"/>
<circle cx="463.60" cy="361.30" r="1.6"/>
<path d="M346.45,314.25 L348.00,311.55 L349.55,314.25 Z" fill="#888" stroke="#000" stroke-width="1"/>
<path d="M348.95,316.15 L350.50,313.45 L352.05,316.15 Z" fill="#888" stroke="#000" stroke-width="1"/>
<path d="M350.95,318.25 L352.50,315.55 L354.05,318.25 Z" fill="#888" stroke="#000" stroke-width="1"/>
<path d="M352.25,324.35 L353.80,321.65 L355.35,324.35 Z" fill="#888" stroke="#000" stroke-width="1"/>
<path d="M362.65,324.35 L364.20,321.65 L365.75,324.35 Z" fill="#888" stroke="#000" stroke-width="1"/>
<path d="M364.45,324.35 L366.00,321.65 L367.55,324.35 Z" fill="#888" stroke="#000" stroke-width="1"/>
<path d="M370.45,328.25 L372.00,325.55 L373.55,328.25 Z" fill="#888" stroke="#000" stroke-width="1"/>
<path d="M372.25,328.25 L373.80,325.55 L375.35,328.25 Z" fill="#888" stroke="#000" stroke-width="1"/>
<path d="M393.15,328.25 L394.70,325.55 L396.25,328.25 Z" fill="#888" stroke="#000" stroke-width="1"/>
<path d="M394.95,328.25 L396.50,325.55 L398.05,328.25 Z" fill="#888" stroke="#000" stroke-width="1"/>
<path d="M397.25,328.25 L398.80,325.55 L400.35,328.25 Z" fill="#888" stroke="#000" stroke-width="1"/>
<path d="M402.65,328.25 L404.20,325.55 L405.75,328.25 Z" fill="#888" stroke="#000" stroke-width="1"/>
<path d="M409.65,336.65 L411.20,333.95 L412.75,336.65 Z" fill="#888" stroke="#000" stroke-width="1"/>
<path d="M421.55,336.65 L423.10,333.95 L424.65,336.65 Z" fill="#888" stroke="#000" stroke-width="1"/>
<path d="M424.45,336.65 L426.00,333.95 L427.55,336.65 Z" fill="#888" stroke="#000" stroke-width="1"/>
<path d="M456.15,336.65 L457.70,333.95 L459.25,336.65 Z" fill="#888" stroke="#000" stroke-width="1"/>
<path d="M486.45,336.65 L488.00,333.95 L489.55,336.65 Z" fill="#888" stroke="#000" stroke-width="1"/>
<g font-size="9" text-anchor="middle">
<text x="447.4" y="314.6">suppressed <tspan font-style="italic">CEBPA</tspan></text>
<text x="447.8" y="324.9">function (n=53)</text>
<text x="451" y="372.7">conserved <tspan font-style="italic">CEBPA</tspan></text>
<text x="450.7" y="383">function (n=52)</text>
</g>
</svg>
</body></html>
